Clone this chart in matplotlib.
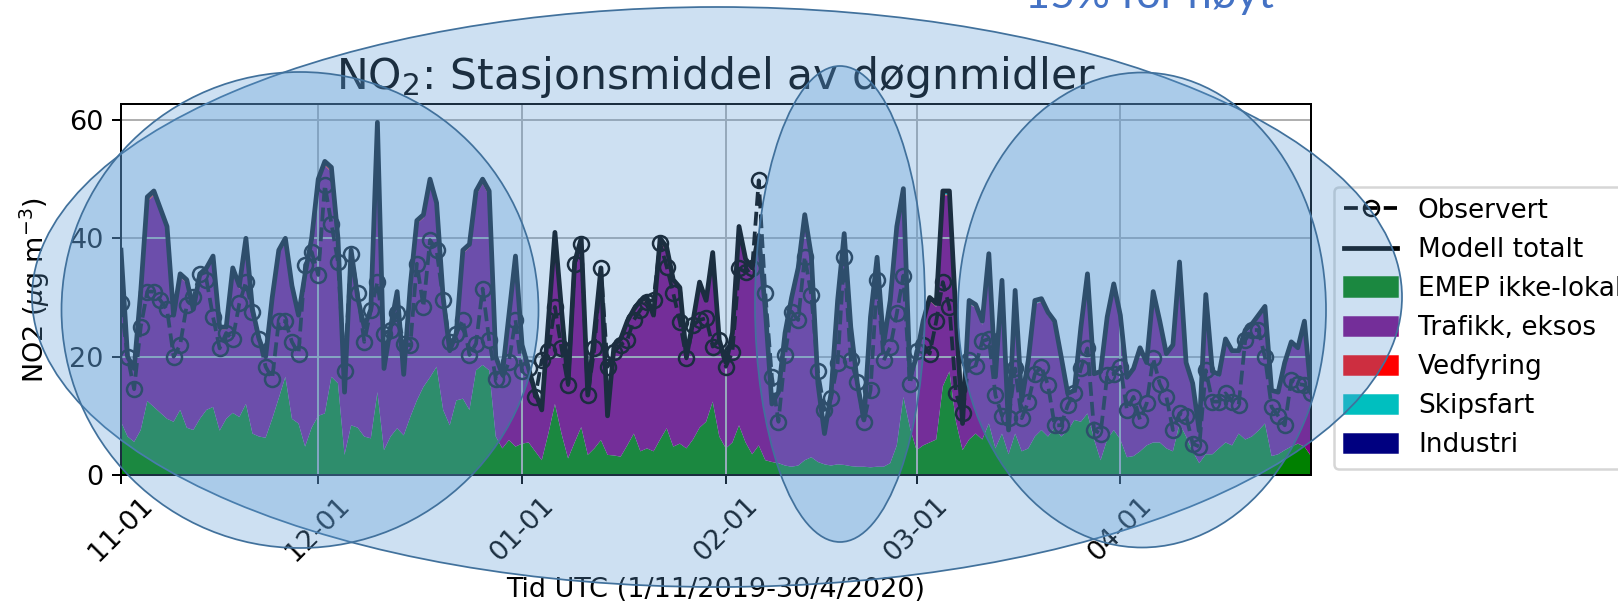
import matplotlib
matplotlib.use("Agg")
import matplotlib.pyplot as plt
import matplotlib.dates as mdates
from matplotlib.ticker import MultipleLocator
from matplotlib.patches import Ellipse
from matplotlib.lines import Line2D
from matplotlib.patches import Patch
import numpy as np
import pandas as pd

# --- data, lest av figuren (dogn 1/11/2019 - 30/4/2020) ---
dager = pd.date_range("2019-11-01", "2020-04-30", freq="D")

modell_tot = [
    38, 20, 18, 31, 47, 48, 45, 42, 27, 34, 33, 28, 34, 35, 37, 25, 25, 35, 32, 40, 28, 23, 20, 30, 38, 40, 32, 27, 34, 40,
    50, 53, 52, 40, 14, 38, 30, 25, 28, 59.6, 18, 25, 31, 17, 32, 43, 44, 50, 46, 30, 21, 24, 38, 39, 48, 50, 48, 20, 17, 27, 37,
    22, 18, 14, 11, 26, 41, 28, 15.5, 36, 40, 13.5, 24, 35, 10, 22, 23, 26, 28, 29.5, 30, 27, 40, 38.5, 33, 31.7, 20, 26, 32.6, 29.5, 37.6, 22.8,
    19, 24, 42, 36.5, 35, 40.5, 28, 12, 14, 24, 30, 35, 44, 37, 15.5, 7, 13.8, 29.5, 40.8, 25, 15.5, 9.3, 26.7, 36.8, 22.2, 29.5, 42, 48.4, 16.6,
    20, 26, 30, 29, 48, 48, 26.7, 8.7, 29.5, 28.8, 26, 37.4, 16.6, 32.9, 7.6, 31.2, 12.6, 19.4, 29.5, 29.8, 27.5, 26, 20, 13.8, 14.3, 25, 34, 17.1, 17.5, 26.7, 32.3,
    27, 16.5, 18, 21.5, 19, 31, 26, 20.5, 22, 36, 19, 15.5, 7.5, 30.5, 17.5, 17, 23, 21, 21, 24.5, 25.5, 27, 28.5, 14.3, 14, 19, 22.5, 21.5, 26, 14,
]

emep = [
    9, 6.5, 5.6, 7.6, 12.5, 11.5, 10.5, 9.5, 9, 11, 8, 7.6, 9.5, 11, 11.5, 7.5, 9.5, 10.5, 9.8, 12, 7, 6.5, 6.3, 9.5, 13, 16.6, 9.5, 8.7, 4.8, 8,
    10, 10.4, 16.6, 15.5, 3.4, 8.4, 8, 6.5, 6.2, 14, 4.2, 6.5, 7.9, 6.7, 9.8, 12.6, 14.9, 16.5, 18.3, 11, 8.4, 12.6, 12.9, 11, 17.7, 18.6, 17.7, 6.5, 4.5, 5.9, 4.8,
    5.3, 5.5, 4, 2.5, 7, 12, 7, 2.8, 5.5, 8.1, 3.4, 4.5, 5.9, 3.4, 3.3, 3.1, 5, 7, 4, 4.5, 4, 6, 7.9, 4.8, 5.3, 4.5, 6, 8, 9, 12.4, 6.5,
    4.5, 5.5, 8.4, 5.5, 3.5, 5, 2.5, 2.2, 2, 1.6, 1.4, 1.6, 2.5, 3, 2.2, 1.8, 1.6, 1.8, 1.7, 1.5, 1.4, 1.4, 1.3, 1.4, 1.4, 2, 5, 13.2, 8,
    4.2, 5, 5.5, 6, 15, 17.5, 9, 4.2, 6, 7, 6, 8.7, 4.5, 7, 3.5, 7, 4, 4.5, 6.5, 7.6, 6.5, 8, 6.5, 7.5, 9.3, 9, 10.4, 6, 2.5, 6, 7.6,
    6, 3, 3.2, 4, 5, 5.5, 5.5, 4.5, 4, 8.7, 6.5, 4, 2, 3.5, 3.5, 4.5, 5.5, 5, 7, 6, 6.5, 7.5, 8.7, 3.2, 3.5, 4.2, 4.8, 5.3, 4.8, 3.2,
]

vedfyring = [
    0.2, 0.1, 0.1, 0.2, 0.3, 0.3, 0.2, 0.2, 0.1, 0.2, 0.2, 0.1, 0.2, 0.2, 0.2, 0.1, 0.1, 0.2, 0.2, 0.2, 0.1, 0.1, 0.1, 0.2, 0.2, 0.3, 0.2, 0.1, 0.2, 0.2,
    0.3, 0.3, 0.3, 0.2, 0.1, 0.2, 0.2, 0.1, 0.2, 0.3, 0.1, 0.1, 0.2, 0.1, 0.2, 0.2, 0.2, 0.3, 0.3, 0.2, 0.1, 0.1, 0.2, 0.2, 0.3, 0.3, 0.3, 0.1, 0.1, 0.1, 0.2,
    0.1, 0.1, 0.1, 0.1, 0.1, 0.2, 0.1, 0.1, 0.2, 0.2, 0.1, 0.1, 0.2, 0.1, 0.1, 0.1, 0.1, 0.1, 0.1, 0.1, 0.1, 0.2, 0.2, 0.1, 0.1, 0.1, 0.1, 0.2, 0.1, 0.2, 0.1,
    0.1, 0.1, 0.2, 0.1, 0.1, 0.2, 0.1, 0.1, 0.1, 0.1, 0.1, 0.1, 0.2, 0.1, 0.1, 0.0, 0.1, 0.1, 0.2, 0.1, 0.1, 0.0, 0.1, 0.1, 0.1, 0.1, 0.2, 0.2, 0.1,
    0.1, 0.1, 0.1, 0.1, 0.2, 0.2, 0.1, 0.0, 0.1, 0.1, 0.1, 0.1, 0.1, 0.1, 0.0, 0.1, 0.0, 0.1, 0.1, 0.1, 0.1, 0.1, 0.1, 0.0, 0.0, 0.1, 0.1, 0.0, 0.0, 0.1, 0.1,
    0.1, 0.0, 0.0, 0.0, 0.0, 0.1, 0.0, 0.0, 0.0, 0.1, 0.0, 0.0, 0.0, 0.1, 0.0, 0.0, 0.0, 0.0, 0.0, 0.0, 0.0, 0.0, 0.1, 0.0, 0.0, 0.0, 0.0, 0.0, 0.0, 0.0,
]

skipsfart = [
    0.3, 0.2, 0.2, 0.3, 0.4, 0.4, 0.3, 0.3, 0.2, 0.3, 0.3, 0.2, 0.3, 0.3, 0.3, 0.2, 0.2, 0.3, 0.3, 0.3, 0.2, 0.2, 0.2, 0.3, 0.3, 0.4, 0.3, 0.2, 0.3, 0.3,
    0.4, 0.4, 0.4, 0.3, 0.2, 0.3, 0.3, 0.2, 0.3, 0.4, 0.2, 0.2, 0.3, 0.2, 0.3, 0.3, 0.3, 0.4, 0.4, 0.3, 0.2, 0.2, 0.3, 0.3, 0.4, 0.4, 0.4, 0.2, 0.2, 0.3, 0.3,
    0.3, 0.3, 0.2, 0.2, 0.3, 0.4, 0.3, 0.2, 0.3, 0.4, 0.2, 0.3, 0.3, 0.2, 0.3, 0.3, 0.3, 0.3, 0.3, 0.3, 0.3, 0.4, 0.4, 0.3, 0.3, 0.3, 0.3, 0.4, 0.3, 0.4, 0.3,
    0.3, 0.3, 0.4, 0.4, 0.4, 0.4, 0.3, 0.2, 0.3, 0.3, 0.4, 0.4, 0.5, 0.4, 0.3, 0.2, 0.3, 0.4, 0.5, 0.4, 0.3, 0.2, 0.4, 0.4, 0.3, 0.4, 0.5, 0.5, 0.3,
    0.3, 0.4, 0.4, 0.4, 0.5, 0.5, 0.4, 0.2, 0.4, 0.4, 0.4, 0.5, 0.3, 0.4, 0.2, 0.4, 0.3, 0.3, 0.4, 0.4, 0.4, 0.4, 0.3, 0.3, 0.3, 0.4, 0.5, 0.3, 0.3, 0.4, 0.4,
    0.4, 0.3, 0.3, 0.4, 0.3, 0.4, 0.4, 0.3, 0.3, 0.5, 0.3, 0.3, 0.2, 0.4, 0.3, 0.3, 0.4, 0.3, 0.3, 0.4, 0.4, 0.4, 0.4, 0.3, 0.3, 0.3, 0.4, 0.3, 0.4, 0.3,
]

industri = [
    0.1, 0.1, 0.1, 0.1, 0.1, 0.1, 0.1, 0.1, 0.1, 0.1, 0.1, 0.1, 0.1, 0.1, 0.1, 0.1, 0.1, 0.1, 0.1, 0.1, 0.1, 0.1, 0.1, 0.1, 0.1, 0.1, 0.1, 0.1, 0.1, 0.1,
    0.1, 0.1, 0.1, 0.1, 0.0, 0.1, 0.1, 0.1, 0.1, 0.1, 0.0, 0.1, 0.1, 0.0, 0.1, 0.1, 0.1, 0.1, 0.1, 0.1, 0.1, 0.1, 0.1, 0.1, 0.1, 0.1, 0.1, 0.1, 0.0, 0.1, 0.1,
    0.1, 0.1, 0.0, 0.0, 0.1, 0.1, 0.1, 0.0, 0.1, 0.1, 0.0, 0.1, 0.1, 0.0, 0.1, 0.1, 0.1, 0.1, 0.1, 0.1, 0.1, 0.1, 0.1, 0.1, 0.1, 0.1, 0.1, 0.1, 0.1, 0.1, 0.1,
    0.1, 0.1, 0.1, 0.1, 0.1, 0.1, 0.1, 0.0, 0.0, 0.1, 0.1, 0.1, 0.1, 0.1, 0.0, 0.0, 0.0, 0.1, 0.1, 0.1, 0.0, 0.0, 0.1, 0.1, 0.1, 0.1, 0.1, 0.1, 0.0,
    0.1, 0.1, 0.1, 0.1, 0.1, 0.1, 0.1, 0.0, 0.1, 0.1, 0.1, 0.1, 0.0, 0.1, 0.0, 0.1, 0.0, 0.1, 0.1, 0.1, 0.1, 0.1, 0.1, 0.0, 0.0, 0.1, 0.1, 0.0, 0.0, 0.1, 0.1,
    0.1, 0.0, 0.1, 0.1, 0.1, 0.1, 0.1, 0.1, 0.1, 0.1, 0.1, 0.0, 0.0, 0.1, 0.1, 0.1, 0.1, 0.1, 0.1, 0.1, 0.1, 0.1, 0.1, 0.0, 0.0, 0.1, 0.1, 0.1, 0.1, 0.0,
]

observert = [
    29, 20, 14.5, 25, 31, 31, 29.5, 28, 20, 22, 28.7, 30, 34, 33, 26.7, 21.4, 24, 23, 29, 32.6, 27.5, 23, 18.3, 16.3, 26, 26, 22.5, 20.5, 35.5, 37.7,
    33.8, 49, 42.5, 36, 17.5, 37.4, 30.7, 22.5, 27.9, 32.6, 23.9, 24.5, 27.3, 22.2, 21.9, 35.7, 28.4, 39.7, 38, 29.6, 22.5, 23.9, 26.2, 20.3, 22.2, 31.5, 22.8, 16.3, 16.3, 19.1, 26.2,
    17.5, 18, 13.2, 19.4, 21, 28.4, 21.4, 15.2, 35.7, 39, 13.5, 21.4, 34.9, 18.3, 20.8, 22, 22.8, 26.2, 27.9, 29.3, 29.6, 39.2, 35.2, 30.7, 25.9, 19.7, 25.3, 26.2, 26.5, 21.7, 22.8,
    18.3, 20.8, 34.9, 34.3, 35, 49.8, 30.7, 16.6, 9, 20.3, 27.6, 26.2, 36.9, 30.4, 17.5, 11, 13, 18.9, 36.9, 19.4, 15.7, 9, 14.3, 32.9, 19.4, 21.6, 27.3, 33.7, 15.4,
    21, 22, 20.5, 26, 32.6, 28.4, 13.8, 10.4, 19.4, 18.5, 22.6, 23, 13.5, 10, 9.6, 18, 9.6, 12.4, 17.1, 18.3, 15.2, 8.4, 8.4, 11.8, 13.8, 18, 21.4, 7.6, 7, 16.9, 17.1,
    18.3, 11, 13.2, 9.3, 12.1, 19.7, 15.4, 13.2, 7.6, 10.4, 10, 5.3, 4.8, 17.7, 12.4, 12.4, 13.8, 12.4, 11.8, 22.8, 24.5, 24.5, 19.9, 11.5, 10, 8.4, 16, 15.4, 15.2, 13.8,
]

kilder = ["EMEP ikke-lokal", "Trafikk, eksos", "Vedfyring", "Skipsfart", "Industri"]
farger = ["green", "purple", "red", "c", "navy"]

# trafikk = resten opp til modell totalt
trafikk = (np.array(modell_tot) - np.array(emep) - np.array(vedfyring)
           - np.array(skipsfart) - np.array(industri))

plt.rcParams["font.size"] = 10.8

# --- figur (originalen er en vanlig matplotlib-figur, forstorret) ---
W, H = 1618, 605
fig = plt.figure(figsize=(W / 180, H / 180), dpi=180)
ax = fig.add_axes([121 / W, 1 - 475 / H, (1311 - 121) / W, (475 - 104) / H])

ax.stackplot(dager, emep, trafikk, vedfyring, skipsfart, industri,
             colors=farger, lw=0)
ax.plot(dager, modell_tot, color="k", lw=1.9)
ax.plot(dager, observert, "k--o", mfc="none", lw=1.5, ms=6)
ax.grid(True)

ax.set_xlim(dager[0], dager[-1])
ax.set_ylim(0, 62.7)
ax.yaxis.set_major_locator(MultipleLocator(20))
ax.xaxis.set_major_locator(mdates.MonthLocator())
ax.xaxis.set_major_formatter(mdates.DateFormatter("%m-%d"))
plt.setp(ax.get_xticklabels(), rotation=45)

ax.set_title("NO$_2$: Stasjonsmiddel av døgnmidler", fontsize=17)
ax.set_xlabel("Tid UTC (1/11/2019-30/4/2020)")
ax.set_ylabel("NO2 ($\\mu$g m$^{-3}$)", labelpad=7)

handles = [Line2D([], [], color="k", ls="--", marker="o", mfc="none", lw=1.5, ms=6),
           Line2D([], [], color="k", lw=1.9)]
handles += [Patch(color=c) for c in farger]
ax.legend(handles, ["Observert", "Modell totalt"] + kilder, fontsize=10.5,
          loc="upper left", bbox_to_anchor=(1.0193, 0.776), borderaxespad=0)

# merknader (ellipser) lagt oppå figuren
ellipser = [(717, 297, 1370, 580), (300, 310, 477, 476),
            (840, 304, 170, 476), (1142, 310, 368, 475)]
for cx, cy, bw, bh in ellipser:
    e = Ellipse((cx / W, 1 - cy / H), bw / W, bh / H, transform=fig.transFigure,
                facecolor=(0.357, 0.608, 0.835, 0.3), edgecolor="#41719C", lw=0.7)
    fig.add_artist(e)

fig.text(1025 / W, 1 - 8 / H, "15% for høyt", fontsize=17.3, family="Lato",
         color="#4472C4", va="baseline", ha="left")

fig.savefig("out.png", dpi=180)
